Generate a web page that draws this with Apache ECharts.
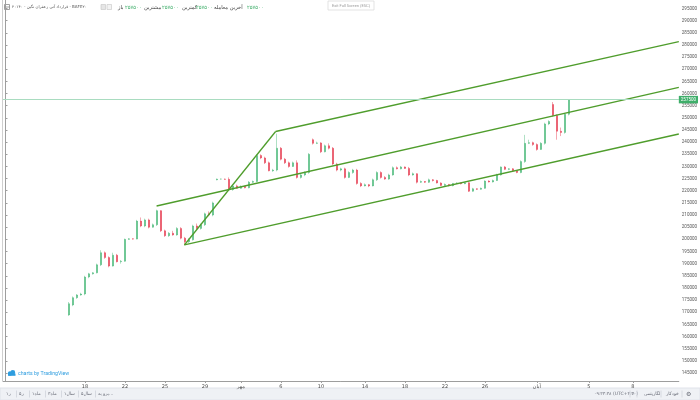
<!DOCTYPE html>
<html><head><meta charset="utf-8">
<script src="https://cdn.jsdelivr.net/npm/echarts@6/dist/echarts.min.js"></script>
<style>html,body{margin:0;padding:0;background:#fff}#c{width:700px;height:400px}</style>
</head><body><div id="c"></div>
<script>
// ---- data ----
const totalSlots = 169;          // hourly slots on the time axis (incl. future space)
const firstSlot = 16;            // slot of the first candle
// [open, close, low, high]
const candles = [
[168900,173500,168500,174200],[173000,176000,172500,176500],[176000,177100,175500,177500],[177100,177500,176800,178000],
[177500,184500,177000,185000],[184500,185800,184000,186200],[185800,186200,185500,186500],[186200,189500,186000,190000],
[189500,194500,189000,195500],[194500,192500,192000,195000],[192500,189000,188500,193000],[189000,193500,188800,194500],
[193500,190800,190500,194000],[190800,191000,190000,191500],[191000,200000,190800,200300],[200000,200200,199800,200500],
[200200,200100,199900,200400],[200100,207500,200000,208000],[207500,205500,205000,209000],[205500,208000,205000,208500],
[208000,205000,204500,208500],[205000,206000,204800,206500],[206000,211800,205500,212200],[211800,203500,203000,212000],
[203500,201500,201000,204000],[201500,202500,201000,203000],[202500,201800,201500,203500],[201800,204500,201500,205000],
[204500,200500,200000,205000],[200500,199000,198000,201000],[199000,199800,198500,200500],[199800,205500,199500,206000],
[205500,204500,204000,206500],[204500,206000,204000,206500],[206000,210500,205500,211000],[210500,210000,209500,211500],
[210000,215000,209500,215500],[224500,224800,224300,225000],[224800,224800,224600,225000],[224800,224700,224500,225000],
[224700,220500,220000,225500],[220500,222000,220000,222500],[222000,221000,220800,222500],[221000,221800,220800,222200],
[221800,221200,221000,222000],[221200,223500,221000,224000],[223500,223800,223200,224200],[223800,234500,223500,235000],
[234500,233500,233000,235000],[233500,231500,231000,234000],[231500,228200,228000,232000],[228200,228500,227800,229000],
[228500,237500,228000,243500],[237500,233000,232500,238000],[233000,231500,231000,233500],[231500,230000,229500,232000],
[230000,231500,229800,232000],[231500,225500,225000,232500],[225500,226500,225000,227000],[226500,227500,226000,228000],
[227500,235000,227000,235500],[241000,239500,239000,241500],[239500,239700,239200,240200],[239700,236000,235500,240000],
[236000,238500,235800,239000],[238500,237500,237000,239500],[237500,231000,230500,238000],[231000,228500,228000,231500],
[228500,229000,228000,229500],[229000,225500,225000,229500],[225500,227500,225200,228000],[227500,228500,227000,229000],
[228500,223000,222500,229000],[223000,222000,221500,223500],[222000,222500,221800,223000],[222500,222000,221500,222800],
[222000,224500,221800,225000],[224500,227500,224000,228000],[227500,225500,225000,228000],[225500,224800,224500,226000],
[224800,226500,224500,227000],[226500,229500,226200,230000],[229500,229000,228800,230000],[229000,229800,228800,230200],
[229800,229200,229000,230000],[229200,226500,226000,229800],[226500,227000,226200,227500],[227000,223500,223000,227200],
[223500,223800,223200,224200],[223800,223500,223200,224000],[223500,224500,223200,225000],[224500,224200,223800,224800],
[224200,223200,223000,224500],[223200,222200,222000,223500],[222200,222600,222000,223000],[222600,222100,221800,222800],
[222100,223000,221800,223200],[223000,223200,222800,223500],[223200,222900,222600,223400],[222900,223300,222700,223600],
[223300,219800,219500,223500],[219800,220800,219600,221200],[220800,220600,220300,221000],[220600,221000,220400,221300],
[221000,224000,220800,224300],[224000,223600,223400,224300],[223600,224200,223400,224600],[224200,226500,224000,227000],
[226500,229800,226200,230000],[229800,228800,228500,230200],[228800,229000,228500,229300],[229000,228200,228000,229300],
[228200,227500,227200,228500],[227500,232000,227200,232500],[232000,239500,231500,243000],[239500,239800,239200,241000],
[239800,239000,238500,240200],[239000,237000,236500,239500],[237000,239500,236800,240000],[239500,247500,239000,248000],
[247500,248500,247000,249000],[255500,251000,250500,256500],[251000,244500,241000,251500],[244500,244000,242500,246000],
[244000,251500,243500,252000],[251500,257500,251000,257500]
];
const lastPrice = 257500;
const yTicks = [145000,150000,155000,160000,165000,170000,175000,180000,185000,190000,195000,200000,205000,210000,
  215000,220000,225000,230000,235000,240000,245000,250000,255000,260000,265000,270000,275000,280000,285000,290000,295000];
const xTickSlots  = [20,30,40,50,59,69,79,90,100,110,120,133,146,157];
const xTickLabels = ['18','22','25','29','مهر','6','10','14','18','22','26','آبان','5','8'];
// drawn channel (slot, price)
const channelUpper  = [[67.67,244383],[168.5,281330]];
const channelMiddle = [[37.9,213724],[168.5,262566]];
const channelLower  = [[44.86,197675],[168.5,243350]];
const channelHandle = [[44.86,197675],[67.67,244383]];
const legendNames = ['باز','بیشترین','کمترین','آخرین معامله'];

// ---- build ----
const fa = v => String(v).replace(/\d/g, d => '۰۱۲۳۴۵۶۷۸۹'[d]);
const categories = Array.from({length: totalSlots}, (_, i) => i);
const candleData = candles.map((c, j) => [firstSlot + j, c[0], c[1], c[2], c[3]]);
const tickMap = {}; xTickSlots.forEach((s, k) => tickMap[s] = xTickLabels[k]);
const UP = '#35b06a', DOWN = '#e3243b', LINE = '#4f9d2c';
const fFa = 'DejaVu Sans';

const chart = echarts.init(document.getElementById('c'), null, {renderer: 'canvas'});

const g = [];
// frame & toolbar
g.push({type:'line', shape:{x1:2.5,y1:0,x2:2.5,y2:381}, style:{stroke:'#cfcfcf', lineWidth:1}, silent:true});
g.push({type:'rect', shape:{x:0,y:388,width:700,height:12}, style:{fill:'#eff1f5', stroke:'#e0e3ea'}, silent:true});
const leftBtns = [['۱ر',6],['۵ر',19],['۱ماه',32],['۳ماه',48],['۱سال',64],['۵سال',81],['برو به...',98]];
leftBtns.forEach(([t,x], k) => {
  g.push({type:'text', x:x, y:394, style:{text:t, font:'4.5px "DejaVu Sans"', fill:'#6a6d78', verticalAlign:'middle'}});
  if (k>0) g.push({type:'line', shape:{x1:x-2.5,y1:390.5,x2:x-2.5,y2:397.5}, style:{stroke:'#d6d9e0'}});
});
const rightBtns = [['۰۹:۳۳:۳۸ (UTC+۳:۳۰)',594,36],['٪',632,5],['لگاریتمی',644,17],['خودکار',666,16]];
rightBtns.forEach(([t,x,w]) => {
  g.push({type:'text', x:x, y:394, style:{text:t, font:'4.5px "DejaVu Sans"', fill:'#6a6d78', verticalAlign:'middle'}});
  g.push({type:'line', shape:{x1:x+w,y1:390.5,x2:x+w,y2:397.5}, style:{stroke:'#d6d9e0'}});
});
g.push({type:'text', x:686, y:394, style:{text:'⚙', font:'6px "DejaVu Sans"', fill:'#6a6d78', verticalAlign:'middle'}});
// top-left legend
g.push({type:'rect', shape:{x:4.5,y:4.5,width:5,height:5}, style:{fill:'none', stroke:'#8a8a8a', lineWidth:0.8}});
g.push({type:'line', shape:{x1:4.5,y1:7,x2:9.5,y2:7}, style:{stroke:'#8a8a8a', lineWidth:0.8}});
g.push({type:'text', x:12, y:7.2, style:{text:'۲۰۱۴۰ - قرارداد آتی زعفران نگین - BAFE۲۰', font:'4px "DejaVu Sans"', fill:'#555', verticalAlign:'middle'}});
g.push({type:'rect', shape:{x:101,y:4.5,width:4.5,height:5}, style:{fill:'#e6e6e6', stroke:'#c4c4c4', lineWidth:0.6}});
g.push({type:'rect', shape:{x:107,y:4.5,width:4.5,height:5}, style:{fill:'#f3f3f3', stroke:'#c4c4c4', lineWidth:0.6}});
const legX = [[118,125],[144,162],[182,196],[214,247]];
legendNames.forEach((n, k) => {
  g.push({type:'text', x:legX[k][0], y:7.2, style:{text:n, font:'5.2px "DejaVu Sans"', fill:'#444', verticalAlign:'middle'}});
  g.push({type:'text', x:legX[k][1], y:7.2, style:{text:fa(lastPrice), font:'5.2px "DejaVu Sans"', fill:'#3fae6a', verticalAlign:'middle'}});
});
// exit full screen
g.push({type:'rect', shape:{x:328,y:1,width:46,height:9}, style:{fill:'#fff', stroke:'#dcdcdc', lineWidth:0.8}});
g.push({type:'text', x:351, y:5.6, style:{text:'Exit Full Screen (ESC)', font:'4px Roboto', fill:'#9a9a9a', align:'center', verticalAlign:'middle'}});
// watermark
g.push({type:'circle', shape:{cx:10,cy:373.5,r:2.2}, style:{fill:'#2e9ddf'}});
g.push({type:'circle', shape:{cx:12.8,cy:372.5,r:2.4}, style:{fill:'#2e9ddf'}});
g.push({type:'rect', shape:{x:8,y:373.5,width:7.5,height:2.3}, style:{fill:'#2e9ddf'}});
g.push({type:'text', x:18, y:373.5, style:{text:'charts by TradingView', font:'5.2px Roboto', fill:'#2e9ddf', verticalAlign:'middle'}});

const lineSeries = (d) => ({type:'line', xAxisIndex:1, yAxisIndex:0, data:d, symbol:'none', silent:true,
  lineStyle:{color:LINE, width:1.3}, z:3, animation:false});

chart.setOption({
  animation:false,
  backgroundColor:'#ffffff',
  grid:{left:3, right:19, top:0, bottom:19, containLabel:false},
  xAxis:[
    {type:'category', data:categories, boundaryGap:true,
     axisLine:{show:true, lineStyle:{color:'#9e9e9e', width:1}},
     axisTick:{show:true, alignWithLabel:true, length:2, interval:(i)=> tickMap[i]!==undefined, lineStyle:{color:'#9e9e9e'}},
     axisLabel:{interval:(i)=> tickMap[i]!==undefined, formatter:(v,i)=> tickMap[i] || '', fontSize:5, color:'#4a4a4a', margin:3, fontFamily:fFa},
     splitLine:{show:false}},
    {type:'value', min:-0.5, max:totalSlots-0.5, show:false}
  ],
  yAxis:[{type:'value', position:'right', min:141700, max:298500,
    axisLine:{show:true, lineStyle:{color:'#9e9e9e', width:1}},
    axisTick:{show:true, length:2.5, customValues:yTicks, lineStyle:{color:'#9e9e9e'}},
    axisLabel:{customValues:yTicks, formatter:(v)=> String(v), fontSize:4.5, color:'#555', margin:3, fontFamily:'Roboto'},
    splitLine:{show:false}}],
  series:[
    {type:'candlestick', xAxisIndex:0, yAxisIndex:0, data:candleData, encode:{x:0, y:[1,2,3,4]},
     barWidth:1.7,
     itemStyle:{color:UP, color0:DOWN, borderColor:UP, borderColor0:DOWN, borderWidth:0.4},
     markLine:{symbol:'none', silent:true, animation:false,
       data:[{yAxis:lastPrice}],
       lineStyle:{color:'#a9dcc0', type:'solid', width:1},
       label:{show:true, position:'end', formatter:String(lastPrice), color:'#fff', backgroundColor:'#3fae6a',
              fontSize:4.5, padding:[1.5,2,1,2], distance:0, fontFamily:'Roboto'}},
     z:2},
    lineSeries(channelUpper), lineSeries(channelMiddle), lineSeries(channelLower), lineSeries(channelHandle)
  ],
  graphic:g
});
</script></body></html>
